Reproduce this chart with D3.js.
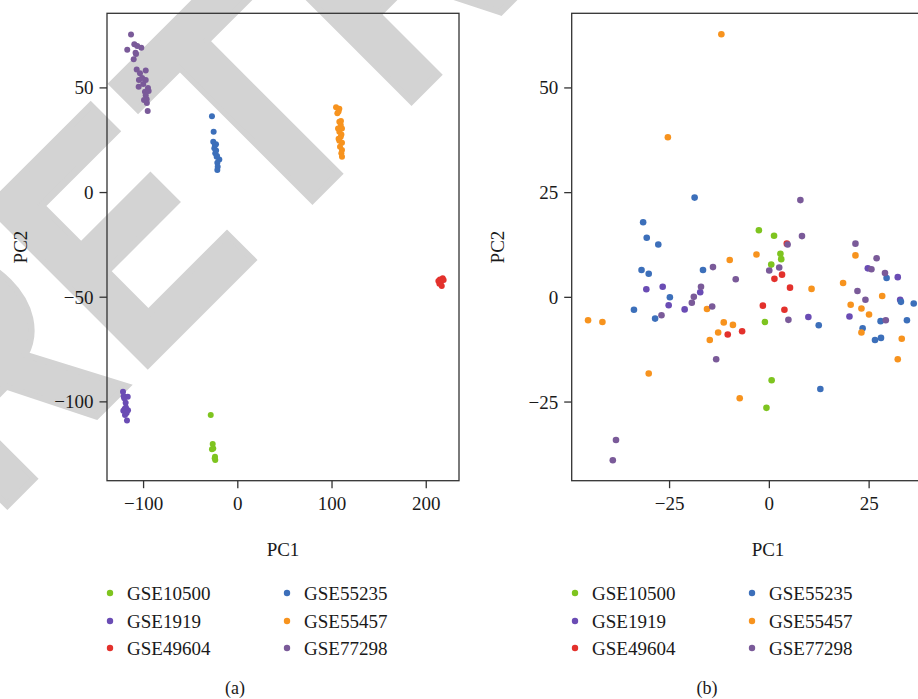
<!DOCTYPE html>
<html>
<head>
<meta charset="utf-8">
<script src="https://cdn.jsdelivr.net/npm/d3@7"></script>
<style>
  html, body { margin: 0; padding: 0; background: #ffffff; }
  svg { display: block; }
  text { font-family: "Liberation Serif", "Times New Roman", serif; fill: #1a1a1a; }
</style>
</head>
<body>
<svg id="chart" width="918" height="699"></svg>
<script>
// Dataset names and colours (legend order)
const categories = ["GSE10500", "GSE1919", "GSE49604", "GSE55235", "GSE55457", "GSE77298"];
const seriesColors = ["#7ec41f", "#6a4cb4", "#e3312c", "#3c6fba", "#f7931e", "#7a5a99"];

// Panel (a): PCA before batch correction, [PC1, PC2]
const rawGSE10500 = [[-28.2,-106.5],[-26.1,-120.4],[-26.9,-122.9],[-25.5,-122.5],[-23.7,-126.5],[-23.4,-128.0],[-24.0,-127.2]];
const rawGSE1919 = [[-121.3,-95.4],[-120.6,-97.5],[-116.3,-97.8],[-118.5,-100.7],[-118.2,-102.9],[-121.0,-104.5],[-116.0,-104.2],[-119.2,-106.5],[-117.1,-109.1],[-119.5,-103.5],[-117.5,-105.5],[-120.0,-98.5]];
const rawGSE49604 = [[213.4,-42.5],[218.0,-41.2],[215.9,-43.3],[217.0,-44.9],[215.0,-41.8],[219.0,-42.0],[214.5,-43.8]];
const rawGSE55235 = [[-26.9,36.2],[-25.1,28.8],[-25.5,24.0],[-22.6,22.8],[-24.4,20.9],[-23.4,18.5],[-21.9,16.9],[-19.1,15.6],[-21.2,14.0],[-20.8,12.1],[-21.2,10.5],[-23.8,22.5],[-22.5,19.8],[-21.5,17.2]];
const rawGSE55457 = [[104.8,40.5],[108.3,39.8],[106.2,37.6],[108.3,33.6],[109.8,32.0],[106.9,30.4],[111.1,30.4],[108.3,28.8],[109.8,26.4],[108.3,24.5],[111.1,23.6],[109.0,21.6],[111.1,20.1],[110.4,18.5],[111.1,16.9],[107.5,38.5],[110.5,27.5],[107.5,25.5],[110.0,34.0]];
const rawGSE77298 = [[-112.8,75.3],[-116.8,68.0],[-109.3,70.6],[-106.2,69.8],[-101.9,68.9],[-107.5,65.9],[-110.0,63.4],[-106.8,58.6],[-103.3,56.7],[-97.2,58.1],[-104.4,53.5],[-97.2,53.5],[-104.7,50.3],[-99.8,51.6],[-94.8,49.7],[-98.0,47.9],[-94.1,48.3],[-97.2,46.3],[-96.2,44.3],[-95.1,38.7],[-101.0,54.5],[-99.0,44.0],[-96.0,42.5],[-108.0,66.5]];

// Panel (b): PCA after batch correction, [PC1, PC2]
const adjGSE10500 = [[-2.5,15.9],[1.3,14.6],[2.9,10.3],[3.1,9.0],[0.6,7.7],[-1.0,-6.0],[0.7,-19.9],[-0.6,-26.5]];
const adjGSE1919 = [[-30.7,1.8],[-26.6,2.4],[-25.1,-2.0],[-21.1,-3.0],[-17.2,1.1],[9.9,-4.8],[24.8,6.8],[32.3,4.7],[32.9,-0.7],[20.2,-4.7]];
const adjGSE49604 = [[4.5,12.7],[1.4,4.3],[3.3,5.3],[5.3,2.2],[-1.5,-2.1],[3.9,-3.1],[-10.3,-9.0],[-6.7,-8.2]];
const adjGSE55235 = [[-18.6,23.7],[-31.5,17.8],[-30.6,14.1],[-27.7,12.5],[-31.9,6.4],[-30.1,5.5],[-16.5,6.4],[-24.8,-0.1],[-33.8,-3.1],[-28.5,-5.2],[12.5,-6.8],[29.5,4.5],[33.1,-1.2],[36.3,-1.6],[34.6,-5.6],[28.0,-5.8],[23.5,-7.5],[26.6,-10.3],[28.1,-9.8],[12.9,-22.0]];
const adjGSE55457 = [[-11.9,62.7],[-25.3,38.1],[-45.3,-5.6],[-41.7,-6.0],[-9.8,8.8],[-3.1,10.1],[-15.5,-2.9],[-11.3,-6.1],[-9.0,-6.7],[-12.7,-8.5],[-14.8,-10.3],[10.7,1.9],[18.6,3.3],[21.7,9.9],[20.5,-1.9],[23.2,-2.8],[25.1,-4.2],[28.4,0.2],[23.2,-8.5],[33.3,-10.0],[-30.1,-18.3],[-7.3,-24.2],[32.3,-14.9]];
const adjGSE77298 = [[-14.0,7.1],[-8.3,4.2],[-17.0,2.4],[-18.8,0.0],[-19.3,-1.4],[-14.2,-2.3],[-26.9,-4.4],[-13.2,-14.9],[-38.3,-34.2],[-39.1,-39.0],[7.9,23.1],[8.3,14.5],[4.7,12.5],[2.6,7.0],[0.1,6.3],[4.9,-5.5],[21.7,12.7],[27.0,9.2],[25.7,6.6],[29.1,5.7],[22.2,1.4],[24.2,-0.7],[29.3,-5.6]];

// Axis ticks
const xTicksA = [-100, 0, 100, 200];
const yTicksA = [-100, -50, 0, 50];
const xTicksB = [-25, 0, 25];
const yTicksB = [-25, 0, 25, 50];

const axisTitles = ["PC1", "PC2"];
const panelLabels = ["(a)", "(b)"];
const watermarkPieces = ["R", "E", "T", "RACTED"];

const svg = d3.select("#chart");

// Diagonal watermark lettering (narrowed bold sans), laid down beneath the plots
const letterX = [96.3, 338.4, 568.3, 793.3];
const wm = svg.append("text")
  .attr("transform", "translate(-61.5,574) rotate(-45) scale(0.82,1)")
  .style("font-family", "'Liberation Sans', Arial, sans-serif")
  .style("font-weight", "bold")
  .style("font-size", "325px")
  .style("fill", "#d3d3d3")
  .style("stroke", "#d3d3d3")
  .style("stroke-width", "7px")
  .style("stroke-linejoin", "miter");
watermarkPieces.forEach((s, i) => {
  wm.append("tspan").attr("x", letterX[i]).attr("y", 0).text(s);
});

function drawPanel(cfg) {
  const g = svg.append("g");
  const x = d3.scaleLinear().domain(cfg.xDomain).range([cfg.left, cfg.right]);
  const y = d3.scaleLinear().domain(cfg.yDomain).range([cfg.bottom, cfg.top]);

  // points, one group per dataset
  cfg.series.forEach((pts, i) => {
    g.append("g").selectAll("circle").data(pts).join("circle")
      .attr("cx", d => x(d[0]))
      .attr("cy", d => y(d[1]))
      .attr("r", cfg.r)
      .attr("fill", seriesColors[i]);
  });

  const xAxis = g.append("g")
    .attr("transform", `translate(0,${cfg.bottom})`)
    .call(d3.axisBottom(x).tickValues(cfg.xTicks).tickSize(7.5).tickPadding(6).tickFormat(d3.format("")));
  const yAxis = g.append("g")
    .attr("transform", `translate(${cfg.left},0)`)
    .call(d3.axisLeft(y).tickValues(cfg.yTicks).tickSize(7.5).tickPadding(6).tickFormat(d3.format("")));
  [xAxis, yAxis].forEach(a => {
    a.select(".domain").remove();
    a.selectAll(".tick line").attr("stroke", "#333").attr("stroke-width", 1.3);
    a.selectAll(".tick text")
      .style("font-family", "'Liberation Serif', 'Times New Roman', serif")
      .style("font-size", "19px").attr("fill", "#1a1a1a");
  });
  xAxis.selectAll(".tick text").attr("dy", "0.85em");
  yAxis.selectAll(".tick text").attr("dy", "0.34em");

  // frame
  g.append("rect")
    .attr("x", cfg.left).attr("y", cfg.top)
    .attr("width", cfg.right - cfg.left).attr("height", cfg.bottom - cfg.top)
    .attr("fill", "none").attr("stroke", "#333").attr("stroke-width", 1.3);

  // axis titles
  g.append("text")
    .attr("x", cfg.titleX).attr("y", 549)
    .attr("text-anchor", "middle").attr("dominant-baseline", "central")
    .style("font-size", "19px")
    .text(axisTitles[0]);
  g.append("text")
    .attr("transform", `translate(${cfg.yTitleX},${(cfg.top + cfg.bottom) / 2}) rotate(-90)`)
    .attr("text-anchor", "middle").attr("dominant-baseline", "central")
    .style("font-size", "19px")
    .text(axisTitles[1]);

  // legend: two columns of three
  const rows = [593, 621, 648];
  categories.forEach((name, i) => {
    const col = Math.floor(i / 3), row = i % 3;
    const lx = cfg.legendCols[col];
    g.append("circle")
      .attr("cx", lx).attr("cy", rows[row]).attr("r", 3.2)
      .attr("fill", seriesColors[i]);
    g.append("text")
      .attr("x", lx + 17).attr("y", rows[row])
      .attr("dominant-baseline", "central")
      .style("font-size", "19px")
      .text(name);
  });

  // panel label
  g.append("text")
    .attr("x", cfg.labelX).attr("y", 688)
    .attr("text-anchor", "middle").attr("dominant-baseline", "central")
    .style("font-size", "18px")
    .text(cfg.label);
}

drawPanel({
  left: 107, right: 459, top: 13.3, bottom: 480.7,
  xDomain: [-138.3, 235.3], yDomain: [-137.9, 85.4],
  xTicks: xTicksA, yTicks: yTicksA, r: 3,
  series: [rawGSE10500, rawGSE1919, rawGSE49604, rawGSE55235, rawGSE55457, rawGSE77298],
  titleX: 283, yTitleX: 20,
  legendCols: [110, 287], labelX: 235, label: panelLabels[0]
});

drawPanel({
  left: 571.7, right: 923.7, top: 13.3, bottom: 480.7,
  xDomain: [-49.4, 38.8], yDomain: [-43.9, 67.7],
  xTicks: xTicksB, yTicks: yTicksB, r: 3.3,
  series: [adjGSE10500, adjGSE1919, adjGSE49604, adjGSE55235, adjGSE55457, adjGSE77298],
  titleX: 768, yTitleX: 497,
  legendCols: [575, 752], labelX: 707, label: panelLabels[1]
});
</script>
</body>
</html>
